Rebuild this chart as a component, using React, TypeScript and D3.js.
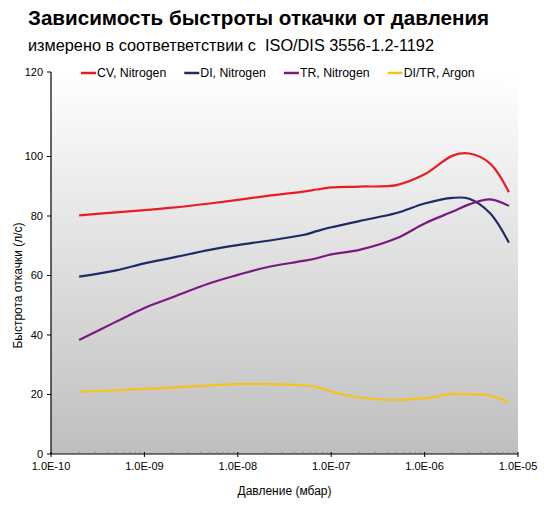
import { useRef, useEffect } from 'react'
import * as d3 from 'd3'

// pressure points (mbar) and pumping speeds (l/s)
const pressures = [2e-10, 5e-10, 1e-9, 2e-9, 5e-9, 1e-8, 2e-8, 5e-8, 7e-8, 1e-7, 2e-7, 5e-7, 1e-6, 2e-6, 3e-6, 5e-6, 8e-6]
const cvNitrogen = [80.2, 81.2, 82.0, 82.8, 84.2, 85.4, 86.7, 88.2, 88.9, 89.6, 89.9, 90.4, 94.0, 100.3, 101.0, 97.7, 88.0]
const diNitrogen = [59.6, 61.7, 64.1, 66.0, 68.6, 70.2, 71.6, 73.6, 74.9, 76.2, 78.3, 81.0, 84.2, 86.1, 85.8, 81.0, 71.0]
const trNitrogen = [38.3, 44.5, 49.1, 52.7, 57.4, 60.2, 62.7, 64.9, 65.8, 67.1, 68.6, 72.5, 77.5, 81.5, 83.9, 85.6, 83.4]
const diTrArgon = [20.9, 21.4, 21.9, 22.3, 23.1, 23.5, 23.5, 23.1, 22.5, 21.0, 19.0, 18.2, 18.7, 20.2, 20.1, 19.6, 17.4]

const seriesNames = ['CV, Nitrogen', 'DI, Nitrogen', 'TR, Nitrogen', 'DI/TR, Argon']
const seriesValues = [cvNitrogen, diNitrogen, trNitrogen, diTrArgon]
const seriesColors = ['#ec1c24', '#1f2a68', '#7a1a80', '#f8c21c']

const xTicks = [1e-10, 1e-9, 1e-8, 1e-7, 1e-6, 1e-5]
const yTicks = [0, 20, 40, 60, 80, 100]
const yTopLabel = '120'

const title = 'Зависимость быстроты откачки от давления'
const subtitle = 'измерено в соответветствии с  ISO/DIS 3556-1.2-1192'
const xTitle = 'Давление (мбар)'
const yTitle = 'Быстрота откачки (л/с)'

const FONT = 'Liberation Sans, Arial, sans-serif'

export default function App() {
  const svgRef = useRef<SVGSVGElement>(null)

  useEffect(() => {
    if (!svgRef.current) return
    const svg = d3.select(svgRef.current)
    svg.selectAll('*').remove()

    const W = 544
    const H = 505
    const plot = { left: 51, right: 518, top: 72, bottom: 454 }

    const x = d3.scaleLog().domain([1e-10, 1e-5]).range([plot.left, plot.right])
    const y = d3.scaleLinear().domain([0, 120]).range([plot.bottom, 97])

    // background gradient
    const defs = svg.append('defs')
    const grad = defs.append('linearGradient')
      .attr('id', 'bg')
      .attr('x1', 0).attr('y1', 0).attr('x2', 0).attr('y2', 1)
    grad.append('stop').attr('offset', '0%').attr('stop-color', '#ffffff')
    grad.append('stop').attr('offset', '100%').attr('stop-color', '#bfbfbf')

    svg.append('rect')
      .attr('width', W).attr('height', H).attr('fill', '#ffffff')

    svg.append('rect')
      .attr('x', plot.left).attr('y', plot.top)
      .attr('width', plot.right - plot.left)
      .attr('height', plot.bottom - plot.top)
      .attr('fill', 'url(#bg)')

    // titles
    svg.append('text')
      .attr('x', 28).attr('y', 25)
      .attr('font-family', FONT).attr('font-size', 20.6).attr('font-weight', 'bold')
      .attr('fill', '#000')
      .text(title)

    svg.append('text')
      .attr('x', 28).attr('y', 51)
      .attr('font-family', FONT).attr('font-size', 16.3)
      .attr('fill', '#000')
      .style('white-space', 'pre')
      .text(subtitle)

    // lines
    const line = d3.line<number>()
      .x((_, i) => x(pressures[i]))
      .y(d => y(d))
      .curve(d3.curveCatmullRom.alpha(0.5))

    seriesValues.forEach((vals, i) => {
      svg.append('path')
        .datum(vals)
        .attr('d', line)
        .attr('fill', 'none')
        .attr('stroke', seriesColors[i])
        .attr('stroke-width', 2.2)
        .attr('stroke-linejoin', 'round')
    })

    // x axis
    const xAxis = svg.append('g')
    xAxis.append('line')
      .attr('x1', plot.left).attr('x2', plot.right)
      .attr('y1', plot.bottom).attr('y2', plot.bottom)
      .attr('stroke', '#000').attr('stroke-width', 1.2)

    const minorTicks: number[] = []
    xTicks.slice(0, -1).forEach(t => {
      for (let k = 2; k <= 9; k++) minorTicks.push(t * k)
    })
    xAxis.selectAll('.minor')
      .data(minorTicks)
      .enter()
      .append('line')
      .attr('x1', d => x(d)).attr('x2', d => x(d))
      .attr('y1', plot.bottom - 2).attr('y2', plot.bottom)
      .attr('stroke', '#777').attr('stroke-width', 1)

    xAxis.selectAll('.major')
      .data(xTicks)
      .enter()
      .append('line')
      .attr('x1', d => x(d)).attr('x2', d => x(d))
      .attr('y1', plot.bottom - 2).attr('y2', plot.bottom + 3)
      .attr('stroke', '#000').attr('stroke-width', 1)

    xAxis.selectAll('.xlabel')
      .data(xTicks)
      .enter()
      .append('text')
      .attr('x', d => x(d))
      .attr('y', plot.bottom + 16)
      .attr('text-anchor', 'middle')
      .attr('font-family', FONT).attr('font-size', 11)
      .attr('fill', '#000')
      .text(d => {
        const e = Math.round(Math.log10(d))
        return `1.0E-${String(-e).padStart(2, '0')}`
      })

    svg.append('text')
      .attr('x', (plot.left + plot.right) / 2)
      .attr('y', 495)
      .attr('text-anchor', 'middle')
      .attr('font-family', FONT).attr('font-size', 12)
      .attr('fill', '#000')
      .text(xTitle)

    // y axis
    const yAxis = svg.append('g')
    yAxis.append('line')
      .attr('x1', plot.left).attr('x2', plot.left)
      .attr('y1', plot.top).attr('y2', plot.bottom)
      .attr('stroke', '#000').attr('stroke-width', 1.2)

    yAxis.selectAll('.ytick')
      .data(yTicks)
      .enter()
      .append('line')
      .attr('x1', plot.left - 4).attr('x2', plot.left)
      .attr('y1', d => y(d)).attr('y2', d => y(d))
      .attr('stroke', '#000')

    yAxis.selectAll('.ylabel')
      .data(yTicks)
      .enter()
      .append('text')
      .attr('x', plot.left - 8)
      .attr('y', d => y(d))
      .attr('dy', '0.35em')
      .attr('text-anchor', 'end')
      .attr('font-family', FONT).attr('font-size', 11)
      .attr('fill', '#000')
      .text(d => String(d))

    yAxis.append('line')
      .attr('x1', plot.left - 4).attr('x2', plot.left)
      .attr('y1', plot.top).attr('y2', plot.top)
      .attr('stroke', '#000')
    yAxis.append('text')
      .attr('x', plot.left - 8)
      .attr('y', plot.top)
      .attr('dy', '0.35em')
      .attr('text-anchor', 'end')
      .attr('font-family', FONT).attr('font-size', 11)
      .attr('fill', '#000')
      .text(yTopLabel)

    svg.append('text')
      .attr('transform', `translate(22, ${(y(0) + y(120)) / 2 + 10}) rotate(-90)`)
      .attr('text-anchor', 'middle')
      .attr('font-family', FONT).attr('font-size', 12)
      .attr('fill', '#000')
      .text(yTitle)

    // legend
    const legend = svg.append('g').attr('transform', `translate(81, ${plot.top + 1})`)
    let lx = 0
    seriesNames.forEach((name, i) => {
      legend.append('line')
        .attr('x1', lx).attr('x2', lx + 15)
        .attr('y1', 0).attr('y2', 0)
        .attr('stroke', seriesColors[i]).attr('stroke-width', 2.5)
      const t = legend.append('text')
        .attr('x', lx + 16)
        .attr('y', 0)
        .attr('dy', '0.35em')
        .attr('font-family', FONT).attr('font-size', 12.3)
        .attr('fill', '#000')
        .text(name)
      const w = (t.node() as SVGTextElement).getComputedTextLength()
      lx += 16 + w + 18
    })
  }, [])

  return (
    <svg
      ref={svgRef}
      width={544}
      height={505}
      style={{ position: 'absolute', left: 0, top: 0 }}
    />
  )
}
